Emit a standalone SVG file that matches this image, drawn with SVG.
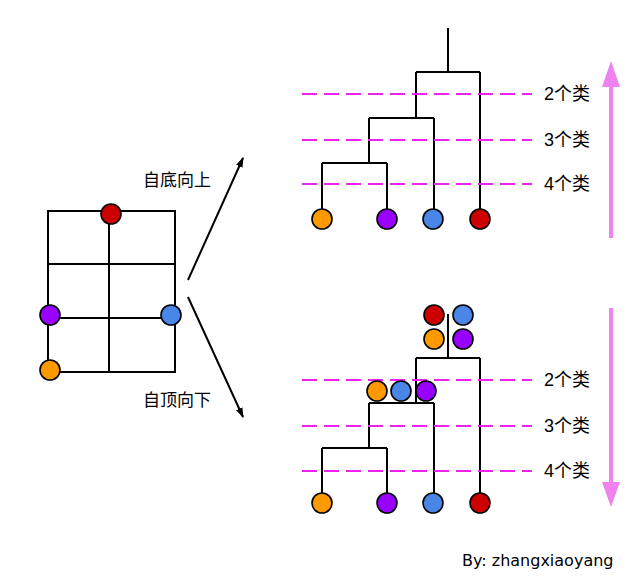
<svg xmlns="http://www.w3.org/2000/svg" width="636" height="576" viewBox="0 0 636 576">
<defs>
<style>
.ln{stroke:#000;stroke-width:2;fill:none}
.dash{stroke:#EE22EE;stroke-width:2;stroke-dasharray:15 7;fill:none}
.nd{stroke:#000;stroke-width:1.6}
.red{fill:#CC0000}
.org{fill:#FF9900}
.pur{fill:#9900FF}
.blu{fill:#4A86E8}
.cn{font-family:"Liberation Sans","Noto Sans CJK SC",sans-serif;font-size:17px;fill:#000}
.lbl{font-family:"Liberation Sans","Noto Sans CJK SC",sans-serif;font-size:18px;fill:#000;dominant-baseline:central}
.pk{stroke:#EE82EE;stroke-width:4;fill:none}
</style>
<marker id="ah" viewBox="0 0 10 10" refX="9" refY="5" markerWidth="5" markerHeight="5" orient="auto" markerUnits="strokeWidth">
<path d="M0,1.5 L10,5 L0,8.5 Z" fill="#000"/>
</marker>
</defs>
<rect width="636" height="576" fill="#fff"/>

<g id="grid">
<rect x="48" y="211" width="127" height="161" class="ln" stroke-width="1.5"/>
<line x1="109" y1="211" x2="109" y2="372" class="ln" stroke-width="1.5"/>
<line x1="48" y1="264" x2="175" y2="264" class="ln" stroke-width="1.5"/>
<line x1="48" y1="318" x2="175" y2="318" class="ln" stroke-width="1.5"/>
</g>
<g id="grid-nodes">
<circle id="g-red" cx="111" cy="214" r="10" class="nd red"/>
<circle id="g-pur" cx="50" cy="315" r="10" class="nd pur"/>
<circle id="g-blu" cx="171" cy="315" r="10" class="nd blu"/>
<circle id="g-org" cx="50" cy="370" r="10" class="nd org"/>
</g>

<g id="arrows">
<line x1="188" y1="280" x2="243" y2="158" class="ln" marker-end="url(#ah)"/>
<line x1="188" y1="297" x2="243" y2="417" class="ln" marker-end="url(#ah)"/>
</g>
<text id="t-up" x="143" y="186" class="cn">自底向上</text>
<text id="t-down" x="143" y="406" class="cn">自顶向下</text>

<g id="top-tree">
<g id="top-connectors">
<path class="ln" d="M448,28 V72 M416,72 H480 M416,72 V118 M369,118 H434 M369,118 V163 M322,163 H387 M322,163 V210 M387,163 V210 M434,118 V210 M480,72 V210"/>
</g>
<g id="top-cuts">
<line x1="302" y1="94" x2="532" y2="94" class="dash"/>
<line x1="302" y1="140" x2="532" y2="140" class="dash"/>
<line x1="302" y1="184" x2="532" y2="184" class="dash"/>
</g>
<text x="544" y="94" class="lbl">2个类</text>
<text x="544" y="140" class="lbl">3个类</text>
<text x="544" y="184" class="lbl">4个类</text>
<g id="top-leaves">
<circle cx="322" cy="219" r="10" class="nd org"/>
<circle cx="387" cy="219" r="10" class="nd pur"/>
<circle cx="433" cy="219" r="10" class="nd blu"/>
<circle cx="480" cy="219" r="10" class="nd red"/>
</g>
<g id="up-arrow">
<line x1="611" y1="238" x2="611" y2="84" class="pk"/>
<path d="M602,87 L611,61 L620,87 Z" fill="#EE82EE"/>
</g>
</g>

<g id="bottom-tree">
<g id="bottom-connectors">
<path class="ln" d="M448,314 V358 M416,358 H480 M416,358 V403 M369,403 H434 M369,403 V448 M322,448 H387 M322,448 V494 M387,448 V494 M434,403 V494 M480,358 V494"/>
</g>
<g id="bottom-cuts">
<line x1="302" y1="380" x2="532" y2="380" class="dash"/>
<line x1="302" y1="426" x2="532" y2="426" class="dash"/>
<line x1="302" y1="471" x2="532" y2="471" class="dash"/>
</g>
<text x="544" y="380" class="lbl">2个类</text>
<text x="544" y="426" class="lbl">3个类</text>
<text x="544" y="471" class="lbl">4个类</text>
<g id="cluster-all">
<circle cx="434" cy="315" r="10" class="nd red"/>
<circle cx="463" cy="315" r="10" class="nd blu"/>
<circle cx="434" cy="339" r="10" class="nd org"/>
<circle cx="463" cy="339" r="10" class="nd pur"/>
</g>
<g id="cluster-three">
<circle cx="377" cy="391" r="10" class="nd org"/>
<circle cx="401" cy="391" r="10" class="nd blu"/>
<circle cx="426" cy="391" r="10" class="nd pur"/>
</g>
<g id="bottom-leaves">
<circle cx="322" cy="503" r="10" class="nd org"/>
<circle cx="387" cy="503" r="10" class="nd pur"/>
<circle cx="433" cy="503" r="10" class="nd blu"/>
<circle cx="480" cy="503" r="10" class="nd red"/>
</g>
<g id="down-arrow">
<line x1="611" y1="308" x2="611" y2="484" class="pk"/>
<path d="M602,482 L611,507 L620,482 Z" fill="#EE82EE"/>
</g>
</g>

<text id="author" x="462" y="566" font-family="DejaVu Sans, sans-serif" font-size="16" fill="#000">By: zhangxiaoyang</text>
</svg>
